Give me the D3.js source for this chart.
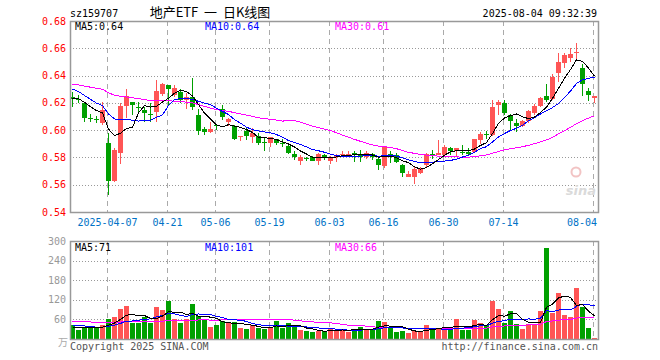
<!DOCTYPE html>
<html>
<head>
<meta charset="utf-8">
<script src="https://cdn.jsdelivr.net/npm/d3@7"></script>
<style>
  body { margin: 0; background: #fff; }
  svg { display: block; }
  text { font-family: "DejaVu Sans Mono", monospace; font-size: 10px; }
</style>
</head>
<body>
<svg id="chart" width="660" height="360"></svg>
<script>
// trading days shown (88 candles)
const dates = [
  "2025-03-27","2025-03-28","2025-03-31","2025-04-01","2025-04-02","2025-04-03",
  "2025-04-07","2025-04-08","2025-04-09","2025-04-10","2025-04-11",
  "2025-04-14","2025-04-15","2025-04-16","2025-04-17","2025-04-18",
  "2025-04-21","2025-04-22","2025-04-23","2025-04-24","2025-04-25",
  "2025-04-28","2025-04-29","2025-04-30",
  "2025-05-06","2025-05-07","2025-05-08","2025-05-09",
  "2025-05-12","2025-05-13","2025-05-14","2025-05-15","2025-05-16",
  "2025-05-19","2025-05-20","2025-05-21","2025-05-22","2025-05-23",
  "2025-05-26","2025-05-27","2025-05-28","2025-05-29","2025-05-30",
  "2025-06-03","2025-06-04","2025-06-05","2025-06-06",
  "2025-06-09","2025-06-10","2025-06-11","2025-06-12","2025-06-13",
  "2025-06-16","2025-06-17","2025-06-18","2025-06-19","2025-06-20",
  "2025-06-23","2025-06-24","2025-06-25","2025-06-26","2025-06-27",
  "2025-06-30","2025-07-01","2025-07-02","2025-07-03","2025-07-04",
  "2025-07-07","2025-07-08","2025-07-09","2025-07-10","2025-07-11",
  "2025-07-14","2025-07-15","2025-07-16","2025-07-17","2025-07-18",
  "2025-07-21","2025-07-22","2025-07-23","2025-07-24","2025-07-25",
  "2025-07-28","2025-07-29","2025-07-30","2025-07-31","2025-08-01",
  "2025-08-04"
];

const open = [
  .6240,.6228,.6201,.6092,.6085,.6050,.5907,.5628,.5829,.6177,
  .6206,.6167,.6148,.6120,.6135,.6263,.6331,.6258,.6282,.6221,
  .6241,.6111,.6008,.5988,.6035,.6155,.6062,.6032,.5956,.5996,
  .5952,.5957,.5912,.5903,.5932,.5907,.5883,.5824,.5775,.5799,
  .5800,.5775,.5817,.5775,.5808,.5824,.5824,.5831,.5826,.5802,
  .5826,.5792,.5736,.5826,.5817,.5743,.5657,.5657,.5688,.5747,
  .5826,.5820,.5820,.5872,.5845,.5842,.5838,.5840,.5926,.5974,
  .5962,.6183,.6196,.6110,.6056,.6031,.6066,.6122,.6178,.6249,
  .6227,.6416,.6494,.6531,.6563,.6457,.6286,.6232
];
const high = [
  .6280,.6258,.6209,.6116,.6103,.6206,.5976,.5866,.6201,.6300,
  .6206,.6206,.6172,.6197,.6368,.6349,.6331,.6331,.6300,.6270,
  .6385,.6152,.6025,.6062,.6044,.6184,.6089,.6037,.5959,.6013,
  .6013,.5976,.5951,.5951,.5937,.5932,.5903,.5846,.5817,.5805,
  .5807,.5829,.5824,.5807,.5824,.5846,.5846,.5846,.5856,.5846,
  .5831,.5800,.5883,.5846,.5834,.5751,.5699,.5729,.5729,.5831,
  .5852,.5926,.5894,.5876,.5872,.5894,.5867,.5938,.5987,.5992,
  .6220,.6220,.6220,.6115,.6085,.6073,.6147,.6188,.6244,.6335,
  .6409,.6563,.6563,.6600,.6641,.6482,.6310,.6249
];
const low = [
  .6170,.6197,.6057,.6057,.6053,.6037,.5523,.5620,.5755,.6086,
  .6111,.6118,.6062,.6062,.6062,.6250,.6184,.6245,.6201,.6152,
  .6148,.5964,.5964,.5981,.6000,.6074,.6032,.5927,.5922,.5927,
  .5903,.5890,.5849,.5873,.5890,.5873,.5824,.5780,.5743,.5773,
  .5773,.5743,.5780,.5753,.5768,.5800,.5805,.5768,.5768,.5790,
  .5780,.5707,.5726,.5756,.5756,.5653,.5653,.5604,.5677,.5732,
  .5791,.5815,.5803,.5815,.5803,.5815,.5811,.5835,.5901,.5938,
  .5957,.6110,.6110,.5999,.5987,.6026,.6056,.6110,.6171,.6203,
  .6220,.6354,.6453,.6501,.6514,.6249,.6213,.6196
];
const close = [
  .6230,.6226,.6091,.6088,.6082,.6148,.5628,.5853,.6177,.6253,
  .6187,.6162,.6123,.6118,.6287,.6339,.6302,.6307,.6221,.6245,
  .6172,.5996,.5988,.6008,.6032,.6094,.6080,.5934,.5959,.5959,
  .5981,.5907,.5910,.5947,.5907,.5900,.5829,.5800,.5800,.5797,
  .5775,.5824,.5800,.5805,.5812,.5828,.5828,.5828,.5802,.5829,
  .5802,.5743,.5873,.5802,.5768,.5687,.5682,.5715,.5718,.5828,
  .5823,.5835,.5876,.5845,.5867,.5840,.5823,.5933,.5975,.5972,
  .6171,.6203,.6122,.6066,.6031,.6066,.6139,.6178,.6237,.6220,
  .6391,.6501,.6551,.6558,.6575,.6335,.6257,.6249
];
// volume, 万
const volume = [
  42,28,37,35,35,44,62,68,92,100,
  50,50,67,48,98,88,115,62,48,62,
  108,70,57,38,44,56,52,52,33,30,
  44,34,30,36,56,33,49,36,27,23,
  21,26,23,33,26,30,22,32,38,28,
  28,55,52,35,22,25,17,25,25,42,
  34,35,36,29,62,29,28,58,50,42,
  116,92,50,85,45,31,46,46,85,278,
  80,140,73,66,155,97,34,4
];
// closes / volumes of the 29 sessions before the window, estimated from where the MA lines start
const preClose = [
  .630,.632,.635,.633,.636,.638,.640,.642,.639,.637,
  .635,.634,.632,.630,.633,.636,.638,.635,.632,.633,
  .640,.638,.637,.636,.633,.624,.622,.625,.6225
];
const preVolume = [
  55,70,62,48,66,75,58,52,60,68,
  72,55,50,63,58,66,70,54,57,60,
  52,45,55,48,45,38,35,34,36
];

const tickDates = ["2025-04-07","2025-04-21","2025-05-06","2025-05-19","2025-06-03",
                   "2025-06-16","2025-06-30","2025-07-14","2025-08-04"];
const priceTicks = [0.54,0.56,0.58,0.60,0.62,0.64,0.66,0.68];
const volumeTicks = [60,120,180,240,300];

const RED = "#ff5555", GREEN = "#00a000";

const movingAverage = (series, pre, n) => {
  const all = pre.concat(series);
  return series.map((_, i) => d3.mean(all.slice(i + pre.length - n + 1, i + pre.length + 1)));
};

const draw = () => {
  const svg = d3.select("#chart");
  const left = 70, right = 598;
  const main = {top: 21, bottom: 212};
  const vol = {top: 241, bottom: 339};

  const idx = d3.range(dates.length);
  const x = d3.scaleBand().domain(idx).range([left, right]);
  const yP = d3.scaleLinear().domain([0.54, 0.68]).range([main.bottom, main.top]);
  const yV = d3.scaleLinear().domain([0, 300]).range([vol.bottom, vol.top]);
  const tickX = d => x(dates.indexOf(d)) + 1.5;

  svg.append("rect").attr("width", 660).attr("height", 360).attr("fill", "#fff");

  const defs = svg.append("defs");
  defs.append("clipPath").attr("id", "clipMain").append("rect")
    .attr("x", left).attr("y", main.top).attr("width", right - left).attr("height", main.bottom - main.top);
  defs.append("clipPath").attr("id", "clipVol").append("rect")
    .attr("x", left).attr("y", vol.top).attr("width", right - left).attr("height", vol.bottom - vol.top);

  // grids
  [[main, yP, priceTicks.slice(1, -1)], [vol, yV, volumeTicks.slice(0, -1)]].forEach(([p, y, ticks]) => {
    svg.append("g").selectAll("line").data(ticks).join("line")
      .attr("x1", left).attr("x2", right)
      .attr("y1", d => Math.round(y(d)) + 0.5).attr("y2", d => Math.round(y(d)) + 0.5)
      .attr("stroke", "#999").attr("stroke-dasharray", "1,2");
    svg.append("g").selectAll("line").data(tickDates).join("line")
      .attr("x1", d => tickX(d)).attr("x2", d => tickX(d))
      .attr("y1", p.top).attr("y2", p.bottom)
      .attr("stroke", "#aaa").attr("stroke-dasharray", "5,4");
  });

  // candles
  const candles = svg.append("g").attr("clip-path", "url(#clipMain)")
    .selectAll("g").data(idx).join("g")
    .attr("fill", i => close[i] >= open[i] ? RED : GREEN)
    .attr("stroke", i => close[i] >= open[i] ? RED : GREEN)
    .attr("shape-rendering", "crispEdges");
  candles.append("line")
    .attr("x1", i => x(i) + 2.5).attr("x2", i => x(i) + 2.5)
    .attr("y1", i => yP(high[i])).attr("y2", i => yP(low[i]));
  candles.append("rect")
    .attr("x", i => x(i)).attr("width", 5)
    .attr("y", i => yP(Math.max(open[i], close[i])))
    .attr("height", i => Math.max(1, Math.abs(yP(open[i]) - yP(close[i]))))
    .attr("stroke", "none");

  // volume bars
  svg.append("g").selectAll("rect").data(idx).join("rect")
    .attr("x", i => x(i)).attr("width", 5)
    .attr("y", i => yV(volume[i])).attr("height", i => vol.bottom - yV(volume[i]))
    .attr("fill", i => close[i] >= open[i] ? RED : GREEN)
    .attr("shape-rendering", "crispEdges");

  // moving averages
  const maColors = {5: "#000", 10: "#0000ff", 30: "#ff00ff"};
  const priceMA = {}, volMA = {};
  [30, 10, 5].forEach(n => {
    priceMA[n] = movingAverage(close, preClose, n);
    volMA[n] = movingAverage(volume, preVolume, n);
    svg.append("path").attr("clip-path", "url(#clipMain)")
      .attr("d", d3.line().x((d, i) => x(i) + 2.5).y(d => yP(d))(priceMA[n]))
      .attr("fill", "none").attr("stroke", maColors[n]).attr("shape-rendering", "crispEdges");
    svg.append("path").attr("clip-path", "url(#clipVol)")
      .attr("d", d3.line().x((d, i) => x(i) + 2.5).y(d => yV(d))(volMA[n]))
      .attr("fill", "none").attr("stroke", maColors[n]).attr("shape-rendering", "crispEdges");
  });

  // frames
  [main, vol].forEach(p => {
    svg.append("rect")
      .attr("x", left + 0.5).attr("y", p.top + 0.5)
      .attr("width", right - left).attr("height", p.bottom - p.top)
      .attr("fill", "none").attr("stroke", "#999").attr("stroke-width", 1.5);
  });

  // axis labels
  svg.append("g").selectAll("text").data(priceTicks).join("text")
    .attr("x", 66).attr("y", d => yP(d)).attr("dy", "0.35em")
    .attr("text-anchor", "end").attr("fill", "#ff0000")
    .text(d => d.toFixed(2));
  svg.append("g").selectAll("text").data(volumeTicks).join("text")
    .attr("x", 66).attr("y", d => yV(d)).attr("dy", "0.35em")
    .attr("text-anchor", "end").attr("fill", "#999")
    .text(d => d);
  svg.append("text").attr("x", 68).attr("y", 346).attr("text-anchor", "end")
    .attr("fill", "#aaa").style("font-family", "'Noto Sans CJK SC'").text("万");

  svg.append("g").selectAll("text").data(tickDates).join("text")
    .attr("x", (d, i) => i === tickDates.length - 1 ? 597 : tickX(d))
    .attr("y", 226)
    .attr("text-anchor", (d, i) => i === tickDates.length - 1 ? "end" : "middle")
    .attr("fill", "#0072c6")
    .text((d, i) => i === 0 ? d : d.slice(5));

  // header
  svg.append("text").attr("x", 70).attr("y", 17).text("sz159707");
  svg.append("text").attr("x", 210).attr("y", 17).attr("text-anchor", "middle")
    .attr("xml:space", "preserve").style("white-space", "pre")
    .style("font-family", "'Noto Sans CJK SC'").style("font-size", "13px")
    .text("地产ETF  一  日K线图");
  svg.append("text").attr("x", 597).attr("y", 17).attr("text-anchor", "end")
    .text("2025-08-04 09:32:39");

  const labelRow = (y, values, fmt) => {
    [[5, 75], [10, 205], [30, 335]].forEach(([n, lx]) => {
      svg.append("text").attr("x", lx).attr("y", y).attr("fill", maColors[n])
        .text(`MA${n}:${fmt(values[n][values[n].length - 1])}`);
    });
  };
  labelRow(30, priceMA, v => v.toFixed(2));
  labelRow(251, volMA, v => Math.round(v));

  // sina watermark
  svg.append("circle").attr("cx", 576).attr("cy", 172).attr("r", 4.5)
    .attr("fill", "none").attr("stroke", "#f2c4c4").attr("stroke-width", 2);
  svg.append("text").attr("x", 596).attr("y", 195).attr("text-anchor", "end")
    .style("font-family", "'DejaVu Sans'").style("font-size", "13px")
    .style("font-weight", "bold").style("font-style", "italic")
    .attr("fill", "#dadada").text("sina");

  // footer
  svg.append("text").attr("x", 70).attr("y", 350).attr("fill", "#555").text("Copyright 2025 SINA.COM");
  svg.append("text").attr("x", 598).attr("y", 350).attr("text-anchor", "end").attr("fill", "#555")
    .text("http://finance.sina.com.cn");
};

draw();
</script>
</body>
</html>
